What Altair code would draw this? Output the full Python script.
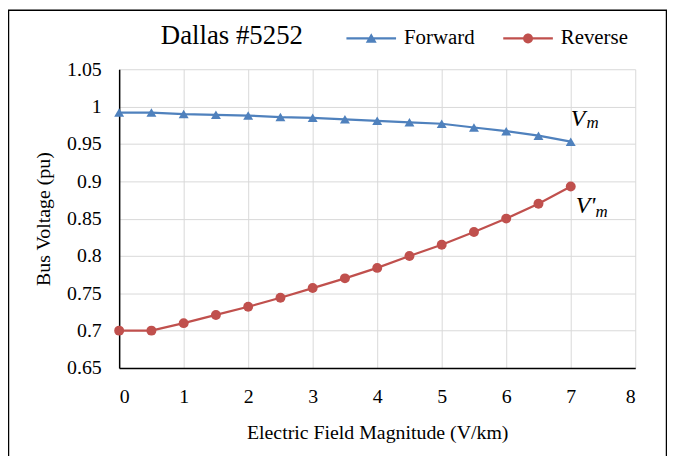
import altair as alt
import pandas as pd

efield = [0, 0.5, 1, 1.5, 2, 2.5, 3, 3.5, 4, 4.5, 5, 5.5, 6, 6.5, 7]
forward = [0.992, 0.992, 0.990, 0.989, 0.988, 0.986, 0.985, 0.983, 0.981, 0.979,
           0.977, 0.972, 0.967, 0.961, 0.953]
reverse = [0.700, 0.700, 0.710, 0.721, 0.732, 0.744, 0.757, 0.770, 0.784, 0.800,
           0.815, 0.832, 0.850, 0.870, 0.893]
series_names = ["Forward", "Reverse"]
colors = ["#4F81BD", "#C0504D"]
x_ticks = [0, 1, 2, 3, 4, 5, 6, 7, 8]
y_ticks = [0.65, 0.7, 0.75, 0.8, 0.85, 0.9, 0.95, 1.0, 1.05]
title_text = "Dallas #5252"
x_title = "Electric Field Magnitude (V/km)"
y_title = "Bus Voltage (pu)"

rows = []
for xv, fv, rv in zip(efield, forward, reverse):
    rows.append({"E": xv, "V": fv, "series": "Forward"})
    rows.append({"E": xv, "V": rv, "series": "Reverse"})
df = pd.DataFrame(rows)

FONT = "Liberation Serif"

x_enc = alt.X("E:Q", scale=alt.Scale(domain=[0, 8], nice=False),
              axis=alt.Axis(values=x_ticks, format="~g", grid=True, ticks=False, labelPadding=19,
                            labelOverlap=False, title=x_title, titlePadding=16))
y_enc = alt.Y("V:Q", scale=alt.Scale(domain=[0.65, 1.05], nice=False, zero=False),
              axis=alt.Axis(values=y_ticks, format=".2~f", grid=True, ticks=False,
                            labelOverlap=False, labelPadding=18, title=y_title, titlePadding=13))

color_scale = alt.Scale(domain=series_names, range=colors)
base = alt.Chart(df)

line = base.mark_line(strokeWidth=2.25).encode(
    x=x_enc, y=y_enc, color=alt.Color("series:N", scale=color_scale, legend=None),
    detail="series:N")

pts_f = base.transform_filter(alt.datum.series == "Forward").mark_point(
    shape="triangle-up", filled=True, size=100, opacity=1).encode(
    x=x_enc, y=y_enc, color=alt.Color("series:N", scale=color_scale, legend=None))
pts_r = base.transform_filter(alt.datum.series == "Reverse").mark_point(
    shape="circle", filled=True, size=100, opacity=1).encode(
    x=x_enc, y=y_enc, color=alt.Color("series:N", scale=color_scale, legend=None))

# legend symbols: thin bar (line) plus marker, all filled, clockwise sub-paths
tri_path = "M-1,-0.045H1V0.045H-1ZM0,-0.21L0.22,0.17L-0.22,0.17Z"
circ_path = ("M-1,-0.045H1V0.045H-1Z"
             "M-0.2,0A0.2,0.2,0,1,1,0.2,0A0.2,0.2,0,1,1,-0.2,0Z")


def legend_for(x_pos, path):
    return alt.Legend(orient="none", legendX=x_pos, legendY=-56, direction="horizontal",
                      title=None, symbolSize=2500, symbolType=path, symbolStrokeWidth=0,
                      symbolOpacity=1, labelFont=FONT, labelFontSize=21, labelOffset=8,
                      labelColor="black")


leg_f = base.transform_filter(alt.datum.series == "Forward").mark_point(
    filled=True, size=0, opacity=1).encode(
    x=x_enc, y=y_enc,
    fill=alt.Fill("series:N", scale=alt.Scale(domain=[series_names[0]], range=[colors[0]]),
                  legend=legend_for(229, tri_path)))
leg_r = base.transform_filter(alt.datum.series == "Reverse").mark_point(
    filled=True, size=0, opacity=1).encode(
    x=x_enc, y=y_enc,
    fill=alt.Fill("series:N", scale=alt.Scale(domain=[series_names[1]], range=[colors[1]]),
                  legend=legend_for(387, circ_path)))

ann_f = alt.Chart(pd.DataFrame({"E": [efield[-1]], "V": [forward[-1]]}))
ann_r = alt.Chart(pd.DataFrame({"E": [efield[-1]], "V": [reverse[-1]]}))
vm_V = ann_f.mark_text(text="V", font=FONT, fontStyle="italic", fontSize=24, align="left",
                       baseline="alphabetic", dx=0, dy=-16).encode(x=x_enc, y=y_enc)
vm_m = ann_f.mark_text(text="m", font=FONT, fontStyle="italic", fontSize=17, align="left",
                       baseline="alphabetic", dx=16, dy=-14).encode(x=x_enc, y=y_enc)
vr_V = ann_r.mark_text(text="V'", font=FONT, fontStyle="italic", fontSize=24, align="left",
                       baseline="alphabetic", dx=5, dy=27).encode(x=x_enc, y=y_enc)
vr_m = ann_r.mark_text(text="m", font=FONT, fontStyle="italic", fontSize=17, align="left",
                       baseline="alphabetic", dx=25, dy=31).encode(x=x_enc, y=y_enc)

title_mark = ann_f.mark_text(text=title_text, font=FONT, fontSize=27, align="left",
                             baseline="alphabetic", color="black").encode(
    x=alt.value(42), y=alt.value(-25))

border = ann_f.mark_rect(filled=False, stroke="black", strokeWidth=1.5).encode(
    x=alt.value(-111.5), x2=alt.value(551.5), y=alt.value(-59.5), y2=alt.value(420))

chart = alt.layer(line, pts_f, pts_r, leg_f, leg_r, vm_V, vm_m, vr_V, vr_m,
                  title_mark, border).resolve_scale(fill="independent").resolve_legend(
    fill="independent"
).properties(
    width=520, height=301,
    autosize=alt.AutoSizeParams(type="none"),
    padding={"left": 112, "top": 60, "right": 32, "bottom": 87},
).configure_axis(
    labelFont=FONT, labelFontSize=20, labelColor="black", titleFont=FONT, titleFontSize=20,
    titleFontWeight="normal", titleColor="black", gridColor="#d9d9d9", gridWidth=1,
    domainColor="black", domainWidth=1.5
).configure_view(stroke=None)

chart.save("out.html", embed_options={"renderer": "svg", "actions": False})
